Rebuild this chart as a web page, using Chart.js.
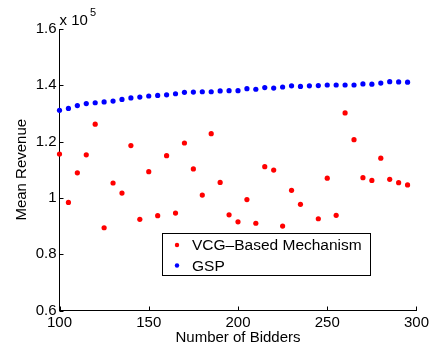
<!DOCTYPE html>
<html>
<head>
<meta charset="utf-8">
<script src="https://cdn.jsdelivr.net/npm/chart.js@4.4.0/dist/chart.umd.min.js"></script>
<style>
  html, body { margin: 0; padding: 0; background: #fff; }
  #wrap { width: 432px; height: 347px; }
</style>
</head>
<body>
<div id="wrap"><canvas id="chart" width="432" height="347"></canvas></div>
<script>
// Number of bidders (x positions)
const bidders = [100, 105, 110, 115, 120, 125, 130, 135, 140, 145,
                 150, 155, 160, 165, 170, 175, 180, 185, 190, 195,
                 200, 205, 210, 215, 220, 225, 230, 235, 240, 245,
                 250, 255, 260, 265, 270, 275, 280, 285, 290, 295];

// Mean revenue, in units of 10^5
const vcgRevenue = [1.156, 0.984, 1.089, 1.153, 1.262, 0.894, 1.053, 1.017, 1.186, 0.924,
                    1.093, 0.937, 1.150, 0.946, 1.195, 1.103, 1.010, 1.228, 1.055, 0.940,
                    0.915, 0.994, 0.910, 1.111, 1.099, 0.900, 1.027, 0.977, null, 0.926,
                    1.070, 0.938, 1.302, 1.207, 1.072, 1.062, 1.141, 1.066, 1.054, 1.046];
const gspRevenue = [1.311, 1.318, 1.328, 1.335, 1.338, 1.341, 1.344, 1.350, 1.355, 1.358,
                    1.362, 1.364, 1.366, 1.370, 1.375, 1.376, 1.377, 1.377, 1.380, 1.381,
                    1.381, 1.388, 1.386, 1.392, 1.390, 1.394, 1.398, 1.396, 1.398, 1.399,
                    1.401, 1.401, 1.401, 1.401, 1.405, 1.404, 1.408, 1.413, 1.412, 1.411];

const xTicks = [100, 150, 200, 250, 300];
const yTicks = [0.6, 0.8, 1, 1.2, 1.4, 1.6];
const seriesLabels = ['VCG\u2013Based Mechanism', 'GSP'];

const FONT = 'Arial, "Liberation Sans", Helvetica, sans-serif';

const toPoints = (vals) => bidders
  .map((b, i) => ({ x: b, y: vals[i] }))
  .filter(p => p.y !== null);

// MATLAB-style inward tick marks
const inwardTicks = {
  id: 'inwardTicks',
  afterDraw(chart) {
    const { ctx, scales: { x, y }, chartArea } = chart;
    ctx.save();
    ctx.strokeStyle = '#000';
    ctx.lineWidth = 1;
    ctx.beginPath();
    xTicks.forEach(v => {
      const px = Math.round(x.getPixelForValue(v)) + 0.5;
      ctx.moveTo(px, chartArea.bottom);
      ctx.lineTo(px, chartArea.bottom - 4);
    });
    yTicks.forEach(v => {
      const py = Math.round(y.getPixelForValue(v)) + 0.5;
      ctx.moveTo(chartArea.left, py);
      ctx.lineTo(chartArea.left + 4, py);
    });
    ctx.stroke();

    // exponent label
    ctx.fillStyle = '#000';
    ctx.textBaseline = 'alphabetic';
    ctx.textAlign = 'left';
    ctx.font = '15px ' + FONT;
    ctx.fillText('x 10', chartArea.left, 25);
    ctx.font = '11px ' + FONT;
    ctx.fillText('5', chartArea.left + 30.5, 16);
    ctx.restore();
  }
};

// legend box drawn on top of the data
const boxLegend = {
  id: 'boxLegend',
  afterDatasetsDraw(chart) {
    const { ctx } = chart;
    const bx = 162.5, by = 233.5, bw = 208, bh = 42;
    ctx.save();
    ctx.fillStyle = '#fff';
    ctx.fillRect(bx, by, bw, bh);
    ctx.strokeStyle = '#000';
    ctx.lineWidth = 1;
    ctx.strokeRect(bx, by, bw, bh);
    ctx.font = '15.5px ' + FONT;
    ctx.textBaseline = 'middle';
    ctx.textAlign = 'left';
    chart.data.datasets.forEach((ds, i) => {
      const cy = 245 + i * 20.5;
      ctx.fillStyle = ds.backgroundColor;
      ctx.beginPath();
      ctx.arc(177, cy, 2.2, 0, Math.PI * 2);
      ctx.fill();
      ctx.fillStyle = '#000';
      ctx.fillText(ds.label, 192, cy + 1);
    });
    ctx.restore();
  }
};

new Chart(document.getElementById('chart'), {
  type: 'scatter',
  data: {
    datasets: [
      {
        label: seriesLabels[0],
        data: toPoints(vcgRevenue),
        backgroundColor: '#ff0000',
        borderWidth: 0,
        pointRadius: 2.6,
        clip: false
      },
      {
        label: seriesLabels[1],
        data: toPoints(gspRevenue),
        backgroundColor: '#0000ff',
        borderWidth: 0,
        pointRadius: 2.6,
        clip: false
      }
    ]
  },
  options: {
    responsive: false,
    animation: false,
    devicePixelRatio: 1,
    layout: { padding: { top: 29, right: 15.5, left: 0, bottom: 0 } },
    plugins: {
      legend: { display: false },
      tooltip: { enabled: false }
    },
    scales: {
      x: {
        type: 'linear',
        min: 100,
        max: 300,
        afterBuildTicks: s => { s.ticks = xTicks.map(v => ({ value: v })); },
        grid: { display: false, drawTicks: false },
        border: { display: true, color: '#000', width: 1 },
        ticks: { color: '#000', font: { family: FONT, size: 15 }, padding: 3, maxRotation: 0 },
        title: {
          display: true,
          text: 'Number of Bidders',
          color: '#000',
          font: { family: FONT, size: 15 },
          padding: { top: 0, bottom: 0.5 }
        },
        afterFit: s => { s.height = 36.5; }
      },
      y: {
        type: 'linear',
        min: 0.6,
        max: 1.6,
        afterBuildTicks: s => { s.ticks = yTicks.map(v => ({ value: v })); },
        grid: { display: false, drawTicks: false },
        border: { display: true, color: '#000', width: 1 },
        ticks: {
          color: '#000',
          font: { family: FONT, size: 15 },
          padding: 3,
          callback: v => String(v)
        },
        title: {
          display: true,
          text: 'Mean Revenue',
          color: '#000',
          font: { family: FONT, size: 15 },
          padding: { top: 12.5, bottom: 0 }
        },
        afterFit: s => { s.width = 59.5; }
      }
    }
  },
  plugins: [inwardTicks, boxLegend]
});
</script>
</body>
</html>
